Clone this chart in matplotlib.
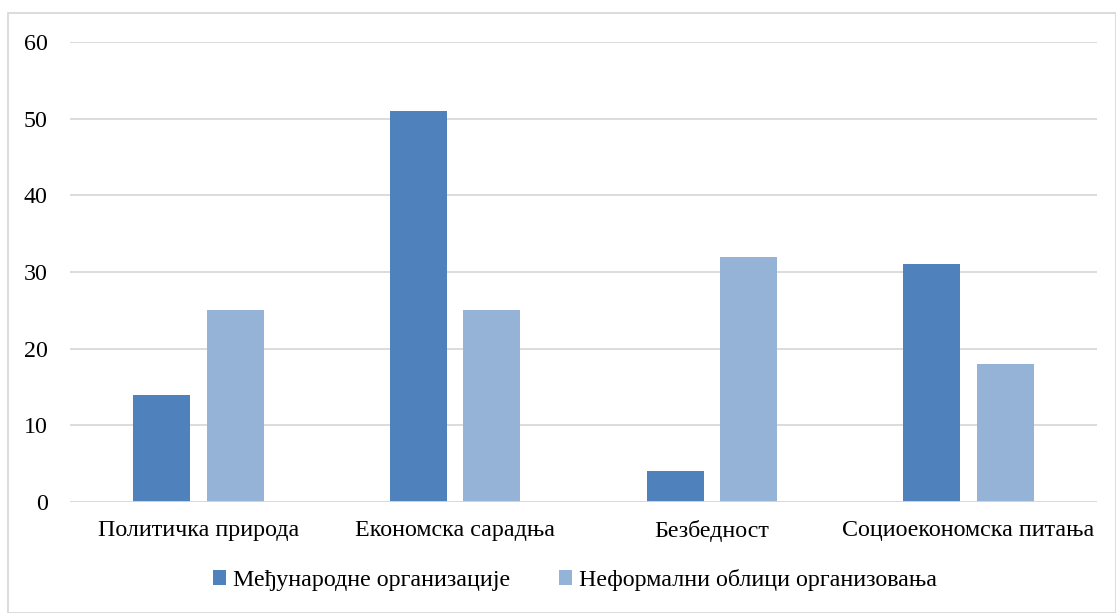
import matplotlib
matplotlib.use("Agg")
import matplotlib.pyplot as plt
import numpy as np
from matplotlib.patches import Rectangle

categories = ["Политичка природа", "Економска сарадња", "Безбедност", "Социоекономска питања"]
series_names = ["Међународне организације", "Неформални облици организовања"]
intl = [14, 51, 4, 31]
informal = [25, 25, 32, 18]
yticks = [0, 10, 20, 30, 40, 50, 60]

plt.rcParams['font.family'] = ['Liberation Serif', 'DejaVu Serif']

W, H = 1116, 613
fig = plt.figure(figsize=(W/100, H/100), dpi=100)
ax = fig.add_axes([70/W, 1-502/H, (1097-70)/W, (502-42)/H])

x = np.arange(len(categories))
bw = 0.222
off = 0.143
c1, c2 = "#4F81BD", "#95B3D7"
ax.bar(x - off, intl, bw, color=c1, label=series_names[0], zorder=3)
ax.bar(x + off, informal, bw, color=c2, label=series_names[1], zorder=3)

fs = 17.3
ax.set_xlim(-0.5, len(categories) - 0.5)
ax.set_ylim(0, 60)
ax.set_yticks(yticks)
ax.set_yticklabels([str(v) for v in yticks], fontsize=fs)
ax.set_xticks(x)
ax.set_xticklabels(categories, fontsize=fs)
ax.tick_params(axis='both', length=0)
ax.tick_params(axis='y', pad=16)
ax.tick_params(axis='x', pad=13)
ax.grid(axis='y', color='#D9D9D9', linewidth=1.3, zorder=0)
for s in ax.spines.values():
    s.set_visible(False)
ax.axhline(0, color='#D9D9D9', linewidth=1.3, zorder=4)

leg = fig.legend(loc='center', bbox_to_anchor=(575/W, 1-580/H), ncol=2, frameon=False,
                 fontsize=fs, handlelength=0.55, handleheight=0.55, handletextpad=0.3,
                 columnspacing=2.0)

fig.patches.append(Rectangle((8/W, 0), (W-8)/W, 1-13/H, transform=fig.transFigure,
                             fill=False, edgecolor='#D9D9D9', linewidth=1.3))

fig.savefig("out.png", dpi=100)
